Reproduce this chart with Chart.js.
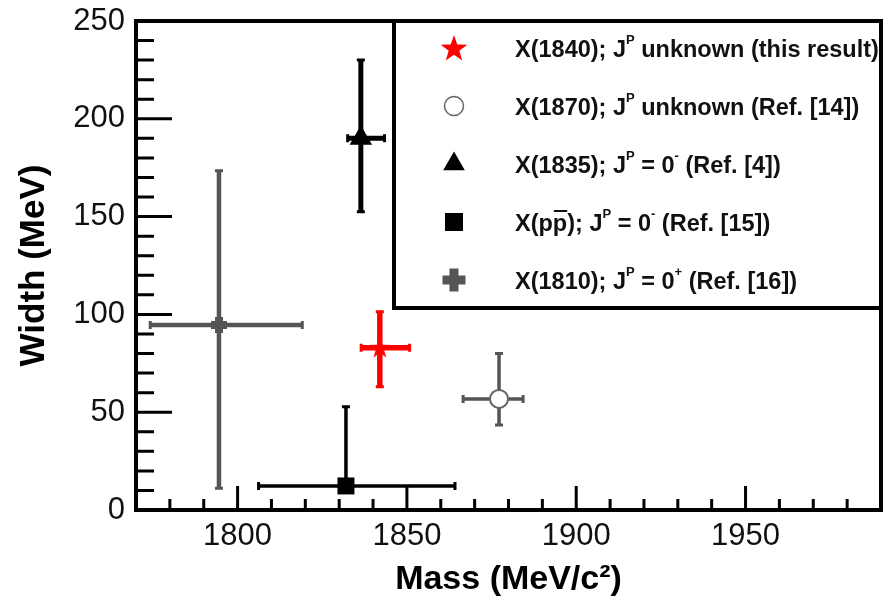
<!DOCTYPE html>
<html>
<head>
<meta charset="utf-8">
<title>Width vs mass</title>
<script src="https://cdn.jsdelivr.net/npm/chart.js@4.4.1/dist/chart.umd.min.js"></script>
<style>
  body { margin: 0; background: #fff; }
  canvas { display: block; }
</style>
</head>
<body>
<canvas id="massWidth" width="891" height="601"></canvas>
<script>
// Values (MeV)
const states = ['X(1840)', 'X(1870)', 'X(1835)', 'X(ppbar)', 'X(1810)'];
const masses = [1842, 1877.2, 1836.4, 1832, 1794.5];
const widths = [83, 56.8, 190, 12.3, 94.6];
const massErrLow = [5.5, 10.6, 3.9, 25.8, 20.3];
const massErrHigh = [8.8, 7.1, 7, 32.2, 24.6];
const widthErrLow = [20, 13.3, 37.5, 0, 83.5];
const widthErrHigh = [18.4, 23.2, 40, 40.5, 78.9];
const xTicks = [1800, 1850, 1900, 1950];
const yTicks = [0, 50, 100, 150, 200, 250];

// Legend text: [text, kind] with kind = sup / bar / plain
const legendLabels = [
    [['X(1840); J'], ['P', 'sup'], [' unknown (this result)']],
    [['X(1870); J'], ['P', 'sup'], [' unknown (Ref. [14])']],
    [['X(1835); J'], ['P', 'sup'], [' = 0'], ['-', 'sup'], [' (Ref. [4])']],
    [['X(p'], ['p', 'bar'], ['); J'], ['P', 'sup'], [' = 0'], ['-', 'sup'], [' (Ref. [15])']],
    [['X(1810); J'], ['P', 'sup'], [' = 0'], ['+', 'sup'], [' (Ref. [16])']]
];

const FONT = "'Liberation Sans', Arial, Helvetica, sans-serif";
const RED = '#ff0000';
const GREY = '#555555';
const BLACK = '#000000';

function starImage(r, color) {
    const c = document.createElement('canvas');
    c.width = c.height = Math.ceil(2 * r) + 2;
    const g = c.getContext('2d');
    const m = c.width / 2;
    g.beginPath();
    for (let k = 0; k < 10; k++) {
        const rad = k % 2 ? r * 0.4 : r;
        const a = -Math.PI / 2 + k * Math.PI / 5;
        g.lineTo(m + rad * Math.cos(a), m + rad * Math.sin(a) + r * 0.08);
    }
    g.closePath();
    g.fillStyle = color;
    g.fill();
    return c;
}

// Marker look, in plot and in legend
const markers = [
    {style: starImage(11, RED), legendStyle: starImage(14, RED), color: RED, fill: RED, r: 11, lr: 14, bw: 0, lbw: 0, bar: 5.5},
    {style: 'circle', color: '#666666', fill: '#ffffff', r: 9, lr: 9.5, bw: 2, lbw: 1.5, bar: 3.5, barColor: GREY},
    {style: 'triangle', color: BLACK, fill: BLACK, r: 13, lr: 12.5, bw: 0, lbw: 0, bar: 5},
    {style: 'rect', color: BLACK, fill: BLACK, r: 12, lr: 12.7, bw: 0, lbw: 0, bar: 3.5},
    {style: 'cross', color: GREY, fill: GREY, r: 8, lr: 11.5, bw: 8, lbw: 9, bar: 4.5}
];

function drawMarker(ctx, m, x, y) {
    ctx.fillStyle = m.fill;
    ctx.strokeStyle = m.color;
    ctx.lineWidth = m.lbw || 1;
    Chart.helpers.drawPoint(ctx, {
        pointStyle: m.legendStyle || m.style,
        radius: m.lr,
        rotation: 0,
        borderWidth: m.lbw
    }, x, y);
}

function drawRich(ctx, segs, x, y) {
    ctx.textBaseline = 'alphabetic';
    ctx.textAlign = 'left';
    segs.forEach(([txt, kind]) => {
        if (kind === 'sup') {
            ctx.font = 'bold 13px ' + FONT;
            ctx.fillText(txt, x, y - 13.5);
        } else {
            ctx.font = 'bold 23.5px ' + FONT;
            ctx.fillText(txt, x, y);
        }
        const w = ctx.measureText(txt).width;
        if (kind === 'bar') {
            ctx.fillRect(x + 1, y - 21, w - 1, 2);
        }
        x += w;
    });
}

const framePlugin = {
    id: 'frameTicks',
    beforeDatasetsDraw(chart) {
        const {ctx, chartArea: a, scales: {x, y}} = chart;
        ctx.save();
        ctx.strokeStyle = BLACK;
        ctx.lineWidth = 3;
        ctx.beginPath();
        x.ticks.forEach(t => {
            const px = x.getPixelForValue(t.value);
            const len = xTicks.includes(t.value) ? 24 : 11;
            ctx.moveTo(px, a.bottom);
            ctx.lineTo(px, a.bottom - len);
        });
        y.ticks.forEach(t => {
            const py = y.getPixelForValue(t.value);
            const len = yTicks.includes(t.value) ? 36 : 18;
            ctx.moveTo(a.left, py);
            ctx.lineTo(a.left + len, py);
        });
        ctx.stroke();
        ctx.lineWidth = 4;
        ctx.strokeRect(a.left, a.top, a.right - a.left, a.bottom - a.top);
        ctx.restore();
    }
};

const errorBarPlugin = {
    id: 'errorBars',
    beforeDatasetsDraw(chart) {
        const {ctx, scales: {x, y}} = chart;
        ctx.save();
        masses.forEach((m, i) => {
            const st = markers[i];
            const px = x.getPixelForValue(m);
            const py = y.getPixelForValue(widths[i]);
            const xl = x.getPixelForValue(m - massErrLow[i]);
            const xr = x.getPixelForValue(m + massErrHigh[i]);
            const yt = y.getPixelForValue(widths[i] + widthErrHigh[i]);
            const yb = y.getPixelForValue(widths[i] - widthErrLow[i]);
            ctx.strokeStyle = st.barColor || st.color;
            ctx.lineWidth = st.bar;
            ctx.beginPath();
            ctx.moveTo(xl, py); ctx.lineTo(xr, py);
            ctx.moveTo(px, yt); ctx.lineTo(px, yb);
            ctx.stroke();
            // end caps
            ctx.lineWidth = 3;
            ctx.beginPath();
            const c = 4;
            if (massErrLow[i] > 0) { ctx.moveTo(xl, py - c); ctx.lineTo(xl, py + c); }
            if (massErrHigh[i] > 0) { ctx.moveTo(xr, py - c); ctx.lineTo(xr, py + c); }
            if (widthErrHigh[i] > 0) { ctx.moveTo(px - c, yt); ctx.lineTo(px + c, yt); }
            if (widthErrLow[i] > 0) { ctx.moveTo(px - c, yb); ctx.lineTo(px + c, yb); }
            ctx.stroke();
        });
        ctx.restore();
    }
};

const legendPlugin = {
    id: 'boxLegend',
    afterDatasetsDraw(chart) {
        const {ctx, chartArea: a} = chart;
        const left = a.left + 258, top = a.top, right = a.right, bottom = a.top + 287;
        ctx.save();
        ctx.fillStyle = '#ffffff';
        ctx.fillRect(left, top, right - left, bottom - top);
        ctx.lineWidth = 4;
        ctx.strokeStyle = BLACK;
        ctx.strokeRect(left, top, right - left, bottom - top);
        legendLabels.forEach((segs, i) => {
            const cy = top + 27 + i * 58;
            drawMarker(ctx, markers[i], left + 60, cy);
            ctx.fillStyle = '#111111';
            drawRich(ctx, segs, left + 121, cy + 9);
        });
        ctx.restore();
    }
};

function noPad(s) {
    s.paddingTop = 0;
    s.paddingBottom = 0;
    s.paddingLeft = 0;
    s.paddingRight = 0;
}

const datasets = states.map((name, i) => ({
    label: name,
    data: [{x: masses[i], y: widths[i]}],
    pointStyle: markers[i].style,
    pointRadius: markers[i].r,
    pointBorderWidth: markers[i].bw,
    pointBackgroundColor: markers[i].fill,
    pointBorderColor: markers[i].color
}));

new Chart(document.getElementById('massWidth'), {
    type: 'scatter',
    data: {datasets},
    options: {
        responsive: false,
        animation: false,
        layout: {autoPadding: false, padding: {top: 21, right: 10, left: 0, bottom: 0}},
        plugins: {
            legend: {display: false},
            tooltip: {enabled: false}
        },
        scales: {
            x: {
                type: 'linear',
                min: 1770,
                max: 1990,
                grid: {display: false, drawTicks: false},
                border: {display: false},
                ticks: {
                    stepSize: 10,
                    autoSkip: false,
                    maxRotation: 0,
                    padding: 8,
                    color: '#111111',
                    font: {family: FONT, size: 31},
                    callback: v => xTicks.includes(v) ? String(v) : ''
                },
                title: {
                    display: true,
                    text: 'Mass (MeV/c²)',
                    color: '#000000',
                    font: {family: FONT, size: 34, weight: 'bold', lineHeight: 1},
                    padding: {top: 0, bottom: 4}
                },
                afterFit: s => { s.height = 91; noPad(s); }
            },
            y: {
                min: 0,
                max: 250,
                grid: {display: false, drawTicks: false},
                border: {display: false},
                ticks: {
                    stepSize: 10,
                    autoSkip: false,
                    padding: 11,
                    color: '#111111',
                    font: {family: FONT, size: 31},
                    callback: v => yTicks.includes(v) ? String(v) : ''
                },
                title: {
                    display: true,
                    text: 'Width (MeV)',
                    color: '#000000',
                    font: {family: FONT, size: 35, weight: 'bold', lineHeight: 1},
                    padding: {top: 17, bottom: 0}
                },
                afterFit: s => { s.width = 136; noPad(s); }
            }
        }
    },
    plugins: [framePlugin, errorBarPlugin, legendPlugin]
});
</script>
</body>
</html>
